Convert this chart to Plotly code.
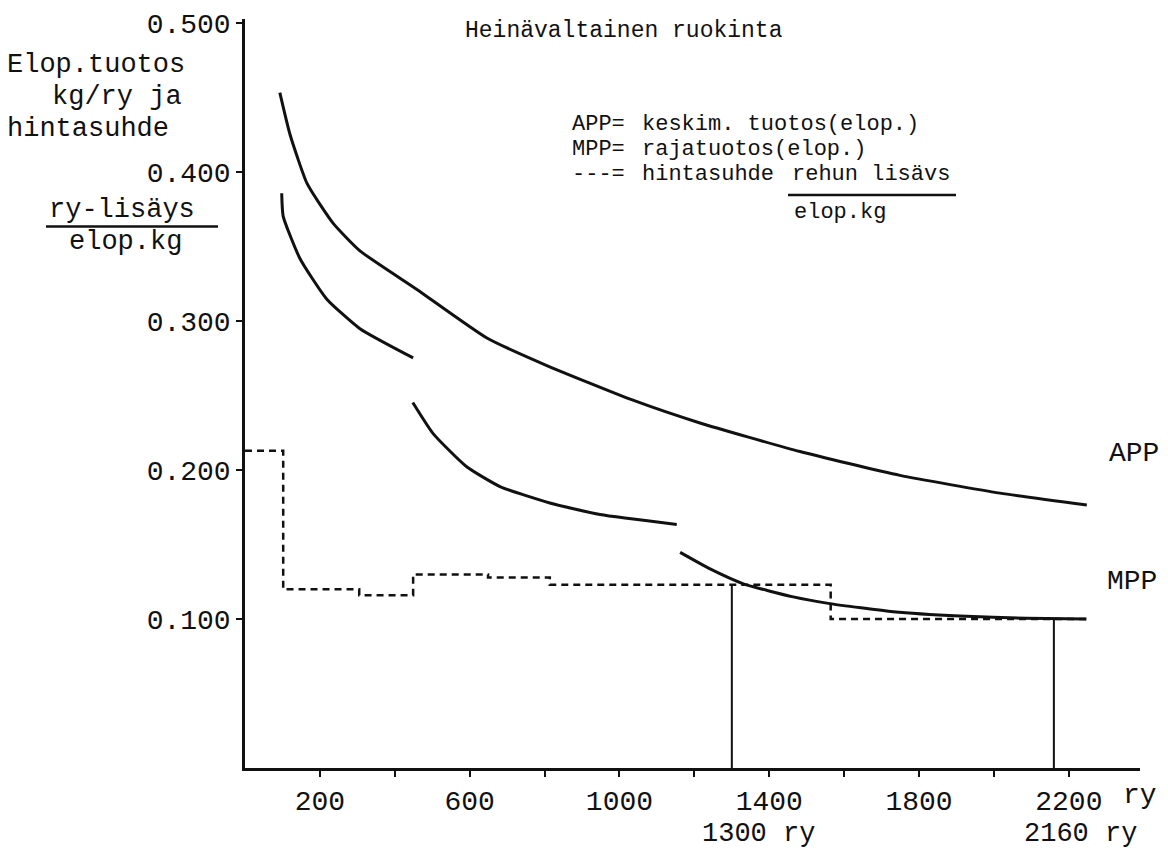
import plotly.graph_objects as go

# ---- data ----
app_x = [93, 120, 166, 235, 307, 459, 646, 806, 1036, 1215, 1482, 1749, 2016, 2248]
app_y = [0.4535, 0.4256, 0.3924, 0.3659, 0.3473, 0.3214, 0.2888, 0.2703, 0.2470, 0.2317, 0.2125, 0.1965, 0.1846, 0.1766]

mpp1_x = [98, 102, 147, 218, 307, 449]
mpp1_y = [0.386, 0.3705, 0.342, 0.315, 0.295, 0.2754]
mpp2_x = [448, 503, 592, 681, 814, 948, 1153]
mpp2_y = [0.2455, 0.2244, 0.2023, 0.189, 0.178, 0.1702, 0.1636]
mpp3_x = [1162, 1242, 1331, 1464, 1562, 1731, 1909, 2087, 2247]
mpp3_y = [0.1448, 0.1337, 0.1237, 0.1149, 0.1104, 0.1049, 0.1020, 0.1005, 0.1001]

price_x = [0, 102, 305, 449, 649, 814, 1564, 2247]
price_y = [0.213, 0.120, 0.116, 0.130, 0.128, 0.123, 0.100, 0.100]

opt_x = [1300, 2160]
opt_y = [0.1235, 0.100]
opt_labels = ["1300 ry", "2160 ry"]

x_tickvals = [200, 400, 600, 800, 1000, 1200, 1400, 1600, 1800, 2000, 2200]
x_ticklabels = ["200", "", "600", "", "1000", "", "1400", "", "1800", "", "2200"]
y_tickvals = [0.1, 0.2, 0.3, 0.4, 0.5]
y_ticklabels = ["0.100", "0.200", "0.300", "0.400", "0.500"]

# ---- layout geometry ----
W, H = 1168, 856
ML, MR, MT, MB = 245, 28, 10, 88
XR = [0, 2390]
YR = [0, 0.503]
FONT = "Liberation Mono"
INK = "#111111"


def px(p):
    return (p - ML) / (W - ML - MR)


def py(p):
    return (H - MB - p) / (H - MT - MB)


def label(text, xl, yc, size):
    return dict(x=px(xl), xref="paper", y=py(yc), yref="paper", text=text, xanchor="left",
                yanchor="middle", showarrow=False, font=dict(family=FONT, size=size, color=INK))


fig = go.Figure()
for xs, ys in [(app_x, app_y), (mpp1_x, mpp1_y), (mpp2_x, mpp2_y), (mpp3_x, mpp3_y)]:
    fig.add_trace(go.Scatter(x=xs, y=ys, mode="lines",
                             line=dict(color=INK, width=3, shape="spline", smoothing=0.5),
                             showlegend=False, hoverinfo="skip"))

fig.add_trace(go.Scatter(x=price_x, y=price_y, mode="lines",
                         line=dict(color=INK, width=2.5, shape="hv", dash="7px,5px"),
                         showlegend=False, hoverinfo="skip"))

for xv, yv in zip(opt_x, opt_y):
    fig.add_trace(go.Scatter(x=[xv, xv], y=[0, yv], mode="lines",
                             line=dict(color=INK, width=2),
                             showlegend=False, hoverinfo="skip"))

ann = []
for xv, lab in zip(opt_x, opt_labels):
    ann.append(dict(x=xv, xref="x", y=py(835), yref="paper", text=lab.replace(" ", "&nbsp;"),
                    xanchor="left", xshift=-32, yanchor="middle", showarrow=False,
                    font=dict(family=FONT, size=27, color=INK)))
ann.append(label("ry", 1121, 796, 28))

for t, xl, yc in [("Elop.tuotos", 5, 57), ("kg/ry ja", 50, 89), ("hintasuhde", 5, 121),
                  ("ry-lisäys", 47, 203), ("elop.kg", 67, 236)]:
    ann.append(label(t, xl, yc, 27))

ann.append(label("Heinävaltainen ruokinta", 463, 22, 23))
for t, xl, yc in [("APP=", 570, 117), ("keskim. tuotos(elop.)", 640, 117),
                  ("MPP=", 570, 142), ("rajatuotos(elop.)", 640, 142),
                  ("---=", 570, 167), ("hintasuhde", 640, 167), ("rehun lisävs", 790, 167),
                  ("elop.kg", 792, 206)]:
    ann.append(label(t, xl, yc, 22))

ann.append(label("APP", 1107, 450, 28))
ann.append(label("MPP", 1105, 579, 28))

shapes = [
    dict(type="line", xref="paper", yref="paper", x0=px(46), x1=px(218), y0=py(220), y1=py(220),
         line=dict(color=INK, width=2.5)),
    dict(type="line", xref="paper", yref="paper", x0=px(788), x1=px(956), y0=py(188), y1=py(188),
         line=dict(color=INK, width=2.5)),
]

axis_common = dict(showgrid=False, zeroline=False, showline=True, linecolor=INK, linewidth=2.5,
                   ticks="outside", ticklen=6, tickwidth=2, tickcolor=INK,
                   tickfont=dict(family=FONT, size=28, color=INK))

fig.update_layout(
    width=W, height=H,
    margin=dict(l=ML, r=MR, t=MT, b=MB, pad=0),
    paper_bgcolor="white", plot_bgcolor="white",
    font=dict(family=FONT, size=28, color=INK),
    annotations=ann, shapes=shapes,
    xaxis=dict(range=XR, tickvals=x_tickvals, ticktext=x_ticklabels, **axis_common),
    yaxis=dict(range=YR, tickvals=y_tickvals, ticktext=y_ticklabels, **axis_common),
)

fig.write_html("out.html")
